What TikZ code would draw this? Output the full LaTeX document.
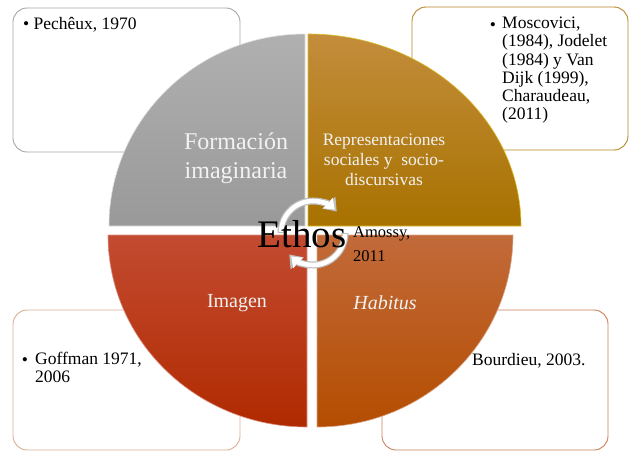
\documentclass[tikz,border=0pt]{standalone}
\usepackage{fontspec}
\setmainfont{Liberation Serif}
\usetikzlibrary{positioning, arrows.meta}

\definecolor{greyTop}{HTML}{B0B0B0}
\definecolor{greyBot}{HTML}{999999}
\definecolor{goldTop}{HTML}{C38D3C}
\definecolor{goldBot}{HTML}{A87200}
\definecolor{redTop}{HTML}{C34B31}
\definecolor{redBot}{HTML}{B02A00}
\definecolor{orangeTop}{HTML}{C26A3A}
\definecolor{orangeBot}{HTML}{B44D00}

\begin{document}
\begin{tikzpicture}[
            x=1pt, y=-1pt,
            refbox/.style={rounded corners=14pt, line width=0.9pt, fill=white},
            reftext/.style={anchor=north west, align=left, inner sep=0pt,
                font=\fontsize{17.5}{18.2}\selectfont},
            bulletmark/.style={inner sep=0pt, font=\fontsize{17.5}{18}\selectfont},
            quadtext/.style={text=white!95!black, align=center, inner sep=0pt},
            cycarrow/.style={line width=#1, -{Triangle[length=12pt, width=17pt]}},
        ]
            \useasboundingbox (0,0) rectangle (629,452);

            % boxes behind the circle
            \draw[refbox, draw=gray!70] (13,8) rectangle (240,152);
            \draw[refbox, draw=goldBot!85] (412,7) rectangle (628,150);
            \draw[refbox, draw=orangeTop!55] (13,310) rectangle (240,450);
            \draw[refbox, draw=orangeTop!85] (382,310) rectangle (608,450);

            \node[reftext] (pecheux) at (23,17) {\textbullet\ Pechêux, 1970};
            \node[bulletmark] (bulMosc) at (493,27) {\textbullet};
            \node[reftext] (moscovici) at (502,17) {Moscovici,\\(1984), Jodelet\\(1984) y Van\\Dijk (1999),\\Charaudeau,\\(2011)};
            \node[bulletmark] (bulGoff) at (25,362) {\textbullet};
            \node[reftext] (goffman) at (35,352) {Goffman 1971,\\2006};
            \node[bulletmark] (bulBour) at (461,363) {\textbullet};
            \node[reftext] (bourdieu) at (472,353) {Bourdieu, 2003.};

            % the four quarters
            \shade[top color=greyTop, bottom color=greyBot, draw=white!75!gray, line width=0.6pt]
                (305,226) -- (109,226) arc[start angle=180, end angle=270, x radius=196, y radius=192] -- cycle;
            \shade[top color=goldTop, bottom color=goldBot, draw=goldTop!60!yellow, line width=0.6pt]
                (308,226) -- (308,34) arc[start angle=270, end angle=360, x radius=213, y radius=192] -- cycle;
            \shade[top color=redTop, bottom color=redBot, draw=redTop!60!white, line width=0.6pt]
                (307,235) -- (108,235) arc[start angle=180, end angle=90, x radius=199, y radius=192] -- cycle;
            \shade[top color=orangeTop, bottom color=orangeBot, draw=orangeTop!60!white, line width=0.6pt]
                (317,235) -- (317,427) arc[start angle=90, end angle=0, x radius=196, y radius=192] -- cycle;

            \node[quadtext, font=\fontsize{24}{29}\selectfont] (formacion) at (236,158) {Formación\\imaginaria};
            \node[quadtext, font=\fontsize{17.5}{20}\selectfont] (representaciones) at (384,160) {Representaciones\\sociales y\ \ socio-\\discursivas};
            \node[quadtext, font=\fontsize{20}{24}\selectfont] (imagen) at (237,303) {Imagen};
            \node[quadtext, font=\fontsize{20}{24}\itshape] (habitus) at (385,303) {Habitus};

            % cycle arrows round the centre
            \coordinate (hub) at (313,233);
            \draw[cycarrow=7pt, gray!50] ([shift={(180:32)}]hub) arc[start angle=180, end angle=318, radius=32];
            \draw[cycarrow=4.6pt, white, -{Triangle[length=9.5pt, width=13.5pt]}] ([shift={(182:32)}]hub) arc[start angle=182, end angle=313, radius=32];
            \draw[cycarrow=7pt, gray!50] ([shift={(0:32)}]hub) arc[start angle=0, end angle=138, radius=32];
            \draw[cycarrow=4.6pt, white, -{Triangle[length=9.5pt, width=13.5pt]}] ([shift={(2:32)}]hub) arc[start angle=2, end angle=133, radius=32];

            \node[anchor=base, inner sep=0pt, font=\fontsize{39}{40}\selectfont] (ethos) at (302,247) {Ethos};
            \node[reftext, font=\fontsize{16.5}{24}\selectfont] (amossy) at (353,226) {Amossy,\\2011};
        \end{tikzpicture}
\end{document}
